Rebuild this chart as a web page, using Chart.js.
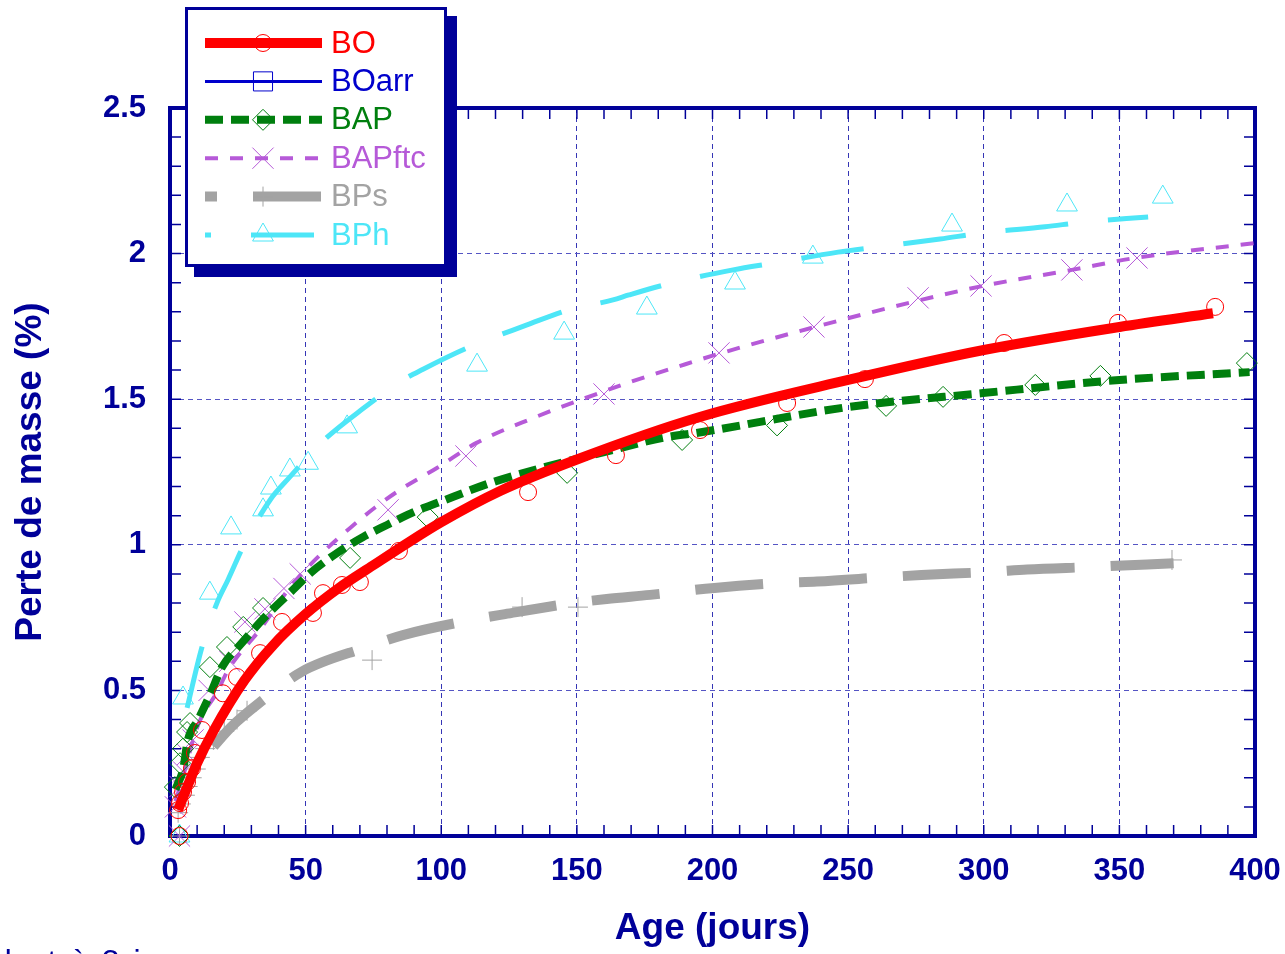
<!DOCTYPE html>
<html>
<head>
<meta charset="utf-8">
<script src="https://cdn.jsdelivr.net/npm/chart.js@4.4.0/dist/chart.umd.min.js"></script>
<style>
body { margin: 0; background: #fff; overflow: hidden; }
#wrap { position: relative; width: 1285px; height: 954px; overflow: hidden; }
#note { position: absolute; left: -6px; top: 945px; font: 32px "Liberation Sans", Arial, sans-serif; line-height: 32px; word-spacing: 5px; color: #000099; white-space: nowrap; }
</style>
</head>
<body>
<div id="wrap">
  <canvas id="graf" width="1285" height="954"></canvas>
  <div id="note">dont à 3 jours</div>
</div>
<script>
const navy = '#000099';
const police = "'Liberation Sans', Arial, sans-serif";

// axes
const xMin = 0, xMax = 400, xStep = 50;
const yMin = 0, yMax = 2.5, yStep = 0.5;

// courbes d'ajustement [age (jours), perte de masse (%)]
const boFit = [[3,0.09],[6,0.16],[10,0.25],[16,0.36],[27.5,0.535],[38,0.655],[50,0.762],[62,0.85],[75,0.93],[87,1.003],[100,1.078],[121.7,1.185],[150,1.293],[195,1.438],[250,1.566],[300,1.669],[350,1.748],[384.5,1.795]];
const bapFit = [[2,0.16],[3,0.182],[4.8,0.227],[6.6,0.33],[10.3,0.398],[14.7,0.484],[19.2,0.58],[26.5,0.663],[35,0.752],[45.3,0.845],[52,0.905],[61.6,0.972],[71.2,1.027],[80,1.068],[89,1.109],[99.5,1.147],[118,1.212],[137,1.264],[157.4,1.312],[183.2,1.37],[194,1.384],[250,1.473],[299.7,1.521],[350,1.566],[398,1.593]];
const bapftcFit = [[2,0.12],[3.7,0.168],[10.3,0.38],[17.7,0.5],[21.4,0.57],[33.9,0.718],[43.5,0.845],[48,0.895],[57,0.98],[66.4,1.058],[75.6,1.128],[85,1.19],[98.4,1.264],[113,1.35],[133.8,1.435],[152,1.5],[170,1.56],[190,1.62],[202,1.655],[237.8,1.748],[276.9,1.841],[299.7,1.889],[332.5,1.944],[355.8,1.985],[400,2.036]];
const bpsFit = [[11.8,0.26],[22.5,0.374],[34.3,0.467],[48.5,0.564],[72.6,0.649],[85.9,0.69],[111.3,0.742],[123.5,0.762],[148.6,0.8],[161,0.814],[177,0.828],[200.7,0.852],[225,0.869],[238.5,0.874],[264,0.889],[277,0.896],[302.6,0.907],[316,0.915],[340,0.924],[370,0.937]];
const bphFit = [[6.3,0.44],[11.8,0.649],[17.3,0.8],[21.4,0.88],[27.6,1.006],[36.9,1.154],[44.2,1.233],[56,1.353],[71.9,1.473],[84.8,1.56],[93.3,1.603],[109.5,1.676],[131.6,1.755],[146.7,1.806],[163.3,1.841],[169.2,1.858],[185,1.899],[207.6,1.944],[223,1.968],[246.3,2.005],[261,2.023],[283.9,2.05],[299.4,2.071],[322.6,2.092],[336.6,2.108],[360.6,2.126]];

// mesures
const boPts = [[3.5,0],[3,0.089],[3.7,0.113],[4.8,0.151],[6.3,0.186],[8.1,0.233],[9.2,0.285],[11.8,0.364],[19.5,0.49],[24.7,0.546],[33.2,0.628],[41.3,0.735],[52.7,0.766],[56.4,0.834],[63.4,0.862],[70,0.872],[84.4,0.979],[132,1.181],[164.4,1.308],[195.4,1.394],[227.5,1.487],[256.2,1.569],[307.5,1.693],[349.5,1.762],[385.3,1.817]];
const boarrPts = [];
const bapPts = [[3.5,0],[1.8,0.168],[3.7,0.25],[4.8,0.3],[6.3,0.357],[7.4,0.388],[14.7,0.58],[21,0.649],[27,0.718],[34.3,0.783],[66.4,0.955],[95,1.095],[146.4,1.247],[188.8,1.36],[223.8,1.41],[264,1.477],[285,1.508],[319,1.549],[343,1.58],[397,1.624]];
const bapftcPts = [[3.5,0],[2,0.1],[3.7,0.17],[5,0.22],[6.5,0.28],[8.5,0.33],[14.4,0.5],[22,0.6],[27.6,0.735],[35,0.78],[42,0.85],[48,0.9],[80.4,1.12],[109.1,1.305],[160,1.518],[202.4,1.659],[237.4,1.748],[275.8,1.848],[299,1.889],[332.5,1.944],[356.5,1.985]];
const bpsPts = [[3.5,0],[3,0.08],[4,0.11],[5.5,0.14],[6.5,0.17],[8,0.2],[9.5,0.23],[11,0.27],[13,0.3],[16,0.33],[20,0.36],[24.7,0.4],[28.4,0.43],[74.5,0.604],[129.8,0.786],[150.4,0.786],[369.4,0.948]];
const bphPts = [[3.5,0],[4.8,0.474],[14.7,0.834],[22.5,1.058],[34.3,1.12],[37.2,1.195],[44.2,1.257],[50.9,1.28],[65.3,1.405],[113.2,1.617],[145.3,1.727],[175.8,1.813],[208.3,1.899],[237,1.988],[288.3,2.098],[330.7,2.167],[366,2.194]];

const noms = ['BO', 'BOarr', 'BAP', 'BAPftc', 'BPs', 'BPh'];
const fits = [boFit, [], bapFit, bapftcFit, bpsFit, bphFit];
const mesures = [boPts, boarrPts, bapPts, bapftcPts, bpsPts, bphPts];

// styles par série (off = décalage du tireté sur la courbe, legOff = dans la légende)
const styles = [
  { color: '#ff0000', width: 10, dash: [], off: 0, legOff: 0, marker: 'circle', r: 8.5 },
  { color: '#0000cc', width: 3, dash: [], off: 0, legOff: 0, marker: 'rect', r: 13.5 },
  { color: '#007f0e', width: 8, dash: [18, 8], off: 0, legOff: 0, marker: 'rectRot', r: 10.5 },
  { color: '#b65ad8', width: 4, dash: [13, 12], off: 0, legOff: 0, marker: 'crossRot', r: 15 },
  { color: '#a3a3a3', width: 10, dash: [68, 36], off: 86, legOff: 56, marker: 'cross', r: 10 },
  { color: '#4de6f7', width: 5, dash: [63, 40], off: 0, legOff: 57, marker: 'triangle', r: 12 }
];

function toXY(arr) {
  return arr.map(p => ({ x: p[0], y: p[1] }));
}

const datasets = [];
noms.forEach((nom, i) => {
  const s = styles[i];
  datasets.push({
    label: nom,
    data: toXY(fits[i]),
    showLine: true,
    borderColor: s.color,
    borderWidth: s.width,
    borderDash: s.dash,
    borderDashOffset: s.off,
    pointRadius: 0,
    cubicInterpolationMode: 'monotone',
    fill: false
  });
  datasets.push({
    label: nom + ' mesures',
    data: toXY(mesures[i]),
    showLine: false,
    pointStyle: s.marker,
    pointRadius: s.r,
    pointBorderWidth: 1,
    pointBorderColor: s.color,
    pointBackgroundColor: 'rgba(0,0,0,0)',
    clip: false
  });
});

// cadre + graduations intérieures
const cadre = {
  id: 'cadre',
  beforeDatasetsDraw(chart) {
    const { ctx, chartArea: a, scales: { x, y } } = chart;
    ctx.save();
    ctx.strokeStyle = navy;
    ctx.lineWidth = 1.5;
    ctx.beginPath();
    for (let v = xMin + 10; v < xMax; v += 10) {
      const px = x.getPixelForValue(v);
      ctx.moveTo(px, a.bottom); ctx.lineTo(px, a.bottom - 11);
      ctx.moveTo(px, a.top); ctx.lineTo(px, a.top + 11);
    }
    for (let k = 1; k < 25; k++) {
      const py = y.getPixelForValue(k / 10);
      ctx.moveTo(a.left, py); ctx.lineTo(a.left + 11, py);
      ctx.moveTo(a.right, py); ctx.lineTo(a.right - 11, py);
    }
    ctx.stroke();
    ctx.lineWidth = 4;
    ctx.strokeRect(a.left, a.top, a.right - a.left, a.bottom - a.top);
    ctx.restore();
  }
};

// légende encadrée avec ombre
const legende = {
  id: 'legende',
  afterDraw(chart) {
    const ctx = chart.ctx;
    ctx.save();
    ctx.fillStyle = navy;
    ctx.fillRect(194, 16, 263, 261);
    ctx.fillStyle = '#fff';
    ctx.fillRect(185, 7, 262, 260);
    ctx.lineWidth = 3;
    ctx.strokeStyle = navy;
    ctx.strokeRect(186.5, 8.5, 259, 257);
    noms.forEach((nom, i) => {
      const s = styles[i];
      const yy = 43 + i * 38.4;
      ctx.strokeStyle = s.color;
      ctx.lineWidth = s.width;
      ctx.setLineDash(s.dash);
      ctx.lineDashOffset = s.legOff;
      ctx.beginPath();
      ctx.moveTo(205, yy);
      ctx.lineTo(322, yy);
      ctx.stroke();
      ctx.setLineDash([]);
      ctx.lineWidth = 1;
      ctx.fillStyle = 'rgba(0,0,0,0)';
      Chart.helpers.drawPoint(ctx, { pointStyle: s.marker, radius: s.r, rotation: 0, borderWidth: 1 }, 263, yy);
      ctx.fillStyle = s.color;
      ctx.font = '31px ' + police;
      ctx.textBaseline = 'middle';
      ctx.textAlign = 'left';
      ctx.fillText(nom, 331, yy + 1);
    });
    ctx.restore();
  }
};

new Chart(document.getElementById('graf').getContext('2d'), {
  type: 'scatter',
  data: { datasets: datasets },
  options: {
    responsive: false,
    animation: false,
    devicePixelRatio: 1,
    layout: { padding: { top: 108, right: 30, left: 0, bottom: 0 } },
    plugins: { legend: { display: false }, tooltip: { enabled: false } },
    scales: {
      x: {
        type: 'linear', min: xMin, max: xMax,
        ticks: { stepSize: xStep, color: navy, padding: 17, maxRotation: 0, font: { family: police, size: 31, weight: 'bold' } },
        grid: { color: '#3535b5', lineWidth: 1, drawTicks: false },
        border: { display: false, dash: [5, 4] },
        title: { display: true, text: 'Age (jours)', color: navy, font: { family: police, size: 37, weight: 'bold' }, padding: { top: 0, bottom: 3 } },
        afterFit(s) { s.height = 118; s.paddingLeft = 0; s.paddingRight = 0; }
      },
      y: {
        type: 'linear', min: yMin, max: yMax,
        ticks: { stepSize: yStep, color: navy, padding: 24, font: { family: police, size: 31, weight: 'bold' },
          callback: v => String(Math.round(v * 10) / 10) },
        grid: { color: '#5555c4', lineWidth: 1, drawTicks: false },
        border: { display: false, dash: [5, 4] },
        title: { display: true, text: 'Perte de masse (%)', color: navy, font: { family: police, size: 37, weight: 'bold' }, padding: { top: 9, bottom: 0 } },
        afterFit(s) { s.width = 170; s.paddingTop = 0; s.paddingBottom = 0; }
      }
    }
  },
  plugins: [cadre, legende]
});
</script>
</body>
</html>
